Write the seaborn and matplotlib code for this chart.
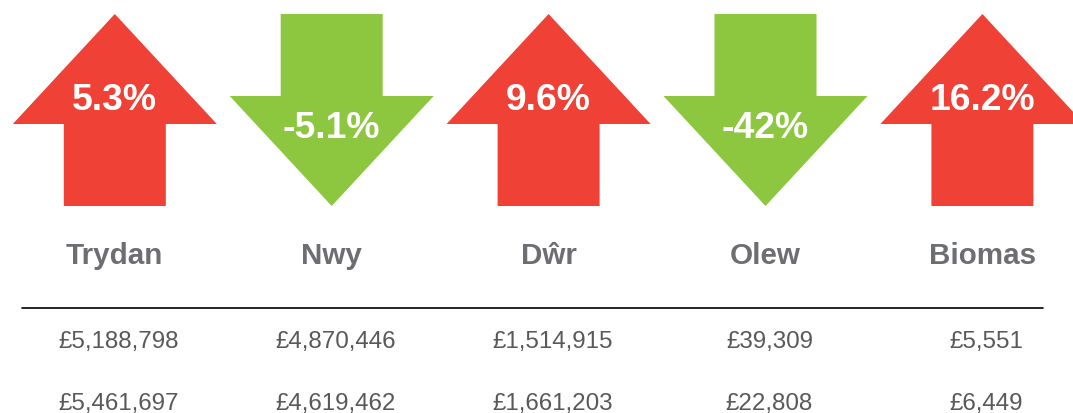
import numpy as np
import pandas as pd
import matplotlib
matplotlib.use("Agg")
import matplotlib.pyplot as plt
from matplotlib.path import Path
import seaborn as sns

# === DATA ===
categories = ["Trydan", "Nwy", "Dŵr", "Olew", "Biomas"]
change_pct = [5.3, -5.1, 9.6, -42, 16.2]
cost_year1 = [5188798, 4870446, 1514915, 39309, 5551]
cost_year2 = [5461697, 4619462, 1661203, 22808, 6449]

# === STYLE ===
RED = "#EF4136"
GREEN = "#8DC63F"
LABEL_GREY = "#6D6E71"
VALUE_GREY = "#58595B"

W_PX, H_PX, DPI = 1073, 414, 100
ARROW_W, SHAFT_W = 204, 102      # pixels
ARROW_H, HEAD_H = 192, 110
ARROW_CY = 111                   # arrow centre (pixels from top)


def arrow_path(up=True):
    hw, sw, hh = ARROW_W / 2, SHAFT_W / 2, ARROW_H / 2
    base = hh - HEAD_H
    verts = [(0, hh), (hw, base), (sw, base), (sw, -hh),
             (-sw, -hh), (-sw, base), (-hw, base), (0, hh)]
    verts = np.array(verts, dtype=float)
    if not up:
        verts[:, 1] *= -1
    codes = [Path.MOVETO] + [Path.LINETO] * 6 + [Path.CLOSEPOLY]
    return Path(verts, codes)


sns.set_theme(style="white")
plt.rcParams["font.family"] = ["Liberation Sans", "DejaVu Sans"]

df = pd.DataFrame({
    "category": categories,
    "change": change_pct,
    "direction": ["up" if c > 0 else "down" for c in change_pct],
})
df["y"] = ARROW_CY

fig = plt.figure(figsize=(W_PX / DPI, H_PX / DPI), dpi=DPI)
ax = fig.add_axes([0, 0, 1, 1])

# arrow width 204 px -> marker size in points
marker_pts = ARROW_W * 72 / DPI
sns.scatterplot(
    data=df, x="category", y="y",
    hue="direction", style="direction",
    palette={"up": RED, "down": GREEN},
    markers={"up": arrow_path(True), "down": arrow_path(False)},
    s=marker_pts ** 2, linewidth=0, edgecolor="none",
    legend=False, ax=ax,
)

# column centres: ~115 px + 217 px per column
col0, col_step = 114.8, 216.9
ax.set_xlim(-col0 / col_step, (W_PX - col0) / col_step)
ax.set_ylim(H_PX, 0)
ax.axis("off")

for i, (cat, chg) in enumerate(zip(categories, change_pct)):
    up = chg > 0
    ax.text(i, ARROW_CY - 1 if up else ARROW_CY + 27, f"{chg:g}%",
            ha="center", va="baseline", color="white",
            fontsize=26.8, fontweight="bold")
    ax.text(i, 264, cat, ha="center", va="baseline", color=LABEL_GREY,
            fontsize=21.3, fontweight="bold")
    ax.text(i + 0.018, 348, f"£{cost_year1[i]:,}", ha="center",
            va="baseline", color=VALUE_GREY, fontsize=17.4)
    ax.text(i + 0.018, 410, f"£{cost_year2[i]:,}", ha="center",
            va="baseline", color=VALUE_GREY, fontsize=17.4)

# separator under the labels
ax.axhline(308.5, xmin=22 / W_PX, xmax=1043 / W_PX, color="black", lw=1.2)

fig.savefig("out.png", dpi=DPI, facecolor="white")
